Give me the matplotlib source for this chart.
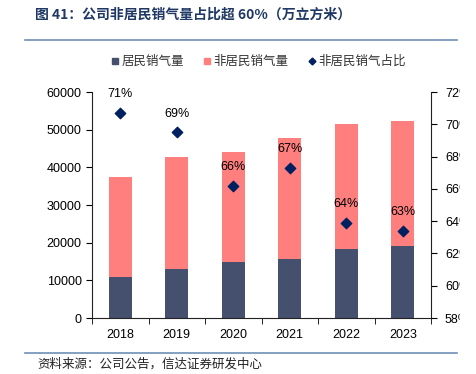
import matplotlib.pyplot as plt
from matplotlib.lines import Line2D
from matplotlib.patches import Rectangle
import numpy as np

# data
years = ["2018", "2019", "2020", "2021", "2022", "2023"]
residential = [10900, 13000, 14850, 15560, 18400, 19200]
total = [37400, 42700, 44000, 47900, 51400, 52400]
nonres_share = [70.7, 69.5, 66.2, 67.3, 63.9, 63.4]
share_labels = ["71%", "69%", "66%", "67%", "64%", "63%"]

RES_COLOR = "#454F6E"
NONRES_COLOR = "#FF7F7F"
MARK_COLOR = "#002060"
RULE_COLOR = "#6F8FB5"

plt.rcParams['font.family'] = ['Liberation Sans', 'Noto Sans CJK SC', 'DejaVu Sans']
CJK = ['Noto Sans CJK SC', 'DejaVu Sans']

fig = plt.figure(figsize=(4.76, 3.74), dpi=100)
ax = fig.add_axes([0.1933, 0.1497, 0.7122, 0.6043])
ax2 = ax.twinx()

x = np.arange(len(years))
nonres = np.array(total) - np.array(residential)
ax.bar(x, residential, width=0.4, color=RES_COLOR, zorder=2)
ax.bar(x, nonres, width=0.4, bottom=residential, color=NONRES_COLOR, zorder=2)

ax2.scatter(x, nonres_share, marker='D', s=28, color=MARK_COLOR, zorder=3)
for xi, v, lab in zip(x, nonres_share, share_labels):
    ax2.annotate(lab, (xi, v), xytext=(0, 9), textcoords='offset points',
                 ha='center', va='bottom', fontsize=9)

ax.set_xlim(-0.5, len(years) - 0.5)
ax.set_ylim(0, 60000)
ax.set_yticks(np.arange(0, 60001, 10000))
ax.set_xticks(x)
ax.set_xticklabels(years, fontsize=9)
ax.set_xticks(np.arange(-0.5, len(years), 1), minor=True)
ax.tick_params(axis='x', which='major', length=0, pad=8)
ax.tick_params(axis='x', which='minor', length=4, direction='out')
ax.tick_params(axis='y', labelsize=9, length=4, direction='out')

ax2.set_ylim(58, 72)
ax2.set_yticks(np.arange(58, 73, 2))
ax2.set_yticklabels([f"{t}%" for t in range(58, 73, 2)])
ax2.tick_params(axis='y', labelsize=9, length=4, direction='out', pad=6)

for a in (ax, ax2):
    a.spines['top'].set_visible(False)
    for s in ('left', 'right', 'bottom'):
        a.spines[s].set_color('#222222')
ax.spines['right'].set_visible(False)
ax2.spines['left'].set_visible(False)
ax2.spines['bottom'].set_visible(False)

handles = [
    Line2D([], [], marker='s', ls='none', color=RES_COLOR, markersize=4.5),
    Line2D([], [], marker='s', ls='none', color=NONRES_COLOR, markersize=4.5),
    Line2D([], [], marker='D', ls='none', color=MARK_COLOR, markersize=3.5),
]
ax.legend(handles, ["居民销气量", "非居民销气量", "非居民销气占比"],
          loc='center', bbox_to_anchor=(0.49, 1.135), ncol=3, frameon=False,
          prop={'family': CJK, 'size': 9}, handletextpad=0.1,
          columnspacing=1.5, handlelength=0.8, labelcolor='#333333')

# the source picture is cropped through the right-hand tick labels
fig.add_artist(Rectangle((460 / 476, 0.1), 1 - 460 / 476, 0.7,
                         transform=fig.transFigure, color='white', zorder=10))

# title, rules and source note
fig.text(0.074, 0.962, "图 41：公司非居民销气量占比超 60%（万立方米）",
         fontsize=10, fontweight='bold', color='#1F3864', family=CJK,
         va='center', ha='left')
fig.add_artist(Line2D([0.053, 0.96], [0.893, 0.893], color=RULE_COLOR, lw=1.2))
fig.add_artist(Line2D([0.053, 0.96], [0.056, 0.056], color=RULE_COLOR, lw=1.2))
fig.text(0.078, 0.027, "资料来源：公司公告，信达证券研发中心",
         fontsize=9, style='italic', family=CJK, color='#222222',
         va='center', ha='left')

fig.savefig("out.png", dpi=100)
